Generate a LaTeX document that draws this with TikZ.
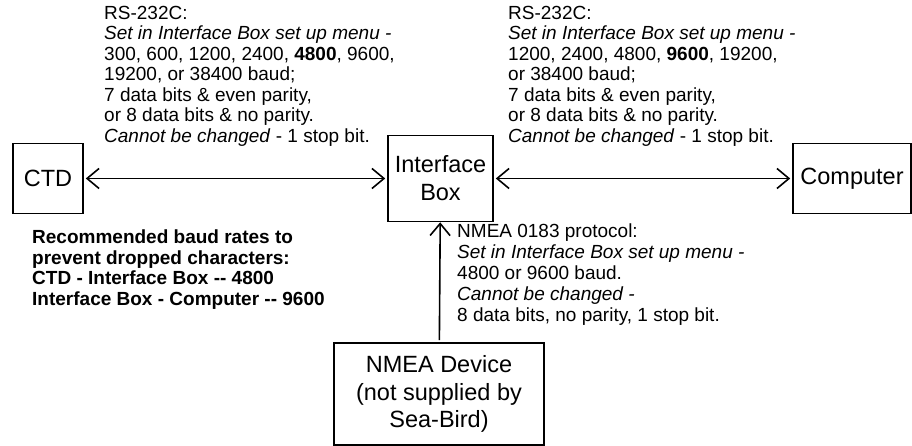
\documentclass[tikz,border=0pt]{standalone}
\usepackage{fontspec}
\setmainfont{Liberation Sans}
\usetikzlibrary{arrows.meta}
\begin{document}
\begin{tikzpicture}[x = 1pt, y = -1pt, link/.style = {line width = 1.6pt,{Straight Barb[length = 12pt, width = 20pt]}-{Straight Barb[length = 12pt, width = 20pt]}, shorten <= 2pt, shorten >= 2pt}]
    \useasboundingbox (0,0) rectangle (912,446);
    \tikzstyle{unit}=[draw, line width = 1.6pt, inner sep = 0pt, align = center, font = \fontsize{23.5}{28}\selectfont]
    \tikzstyle{note}=[anchor = north west, inner sep = 0pt, align = left, font = \fontsize{19}{20.5}\selectfont]

    % units
    \node[unit, minimum width = 70, minimum height = 70] (ctd) at (48,178.5) {CTD};
    \node[unit, minimum width = 105, minimum height = 86] (ifbox) at (440.5,178.5) {Interface\\Box};
    \node[unit, minimum width = 118, minimum height = 70] (pc) at (852,178.5) {Computer};
    \node[unit, minimum width = 210, minimum height = 102, font = \fontsize{23.5}{27.5}\selectfont] (nmea) at (439,394) {NMEA Device\\(not supplied by\\Sea-Bird)};

    % connectors
    \draw [link] (ctd) to (ifbox);
    \draw [link] (ifbox) to (pc);
    \draw [link, shorten <= 0pt, {Straight Barb[length = 12pt, width = 20pt]}-] (ifbox) to (nmea);

    % notes
    \node[note] (left) at (104,6) {RS-232C:\\
        \textit{Set in Interface Box set up menu -}\\
        300, 600, 1200, 2400, \textbf{4800}, 9600,\\
        19200, or 38400 baud;\\
        7 data bits \& even parity,\\
        or 8 data bits \& no parity.\\
        \textit{Cannot be changed} - 1 stop bit.};
    \node[note] (right) at (508,6) {RS-232C:\\
        \textit{Set in Interface Box set up menu -}\\
        1200, 2400, 4800, \textbf{9600}, 19200,\\
        or 38400 baud;\\
        7 data bits \& even parity,\\
        or 8 data bits \& no parity.\\
        \textit{Cannot be changed} - 1 stop bit.};
    \node[note, font = \fontsize{19}{21}\selectfont] (proto) at (457,224) {NMEA 0183 protocol:\\
        \textit{Set in Interface Box set up menu -}\\
        4800 or 9600 baud.\\
        \textit{Cannot be changed -}\\
        8 data bits, no parity, 1 stop bit.};
    \node[note, font = \fontsize{19}{20.5}\selectfont\bfseries] (rates) at (32,230) {Recommended baud rates to\\
        prevent dropped characters:\\
        CTD - Interface Box {-}{-} 4800\\
        Interface Box - Computer {-}{-} 9600};
\end{tikzpicture}
\end{document}
